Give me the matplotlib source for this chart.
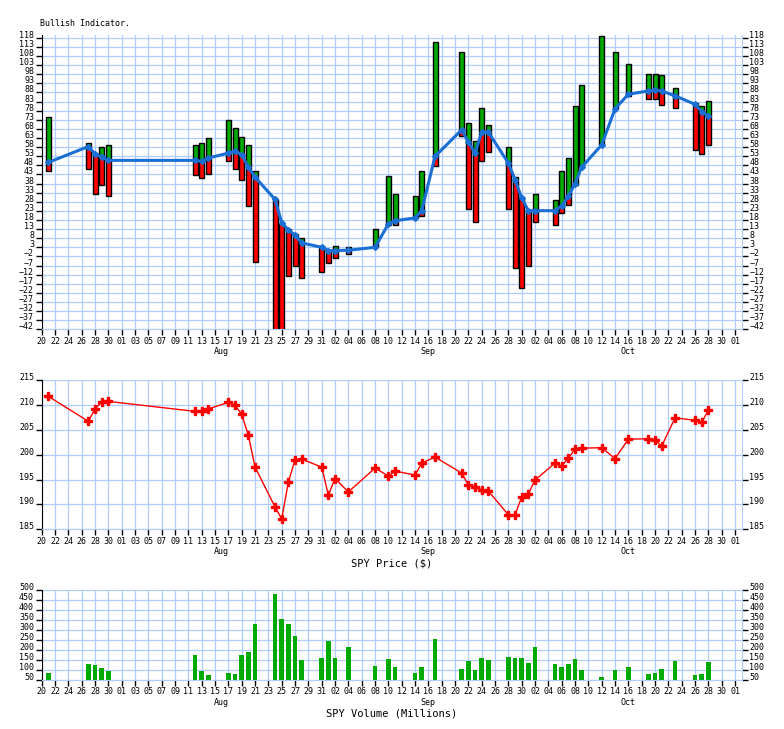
import matplotlib
matplotlib.use("Agg")
import matplotlib.pyplot as plt
import matplotlib.dates as mdates
import numpy as np
import pandas as pd

plt.rcParams["font.family"] = ["DejaVu Sans Mono"]

# ---------------- data ----------------
dates = ["2015-07-21", "2015-07-27", "2015-07-28", "2015-07-29", "2015-07-30",
         "2015-08-12", "2015-08-13", "2015-08-14", "2015-08-17", "2015-08-18",
         "2015-08-19", "2015-08-20", "2015-08-21", "2015-08-24", "2015-08-25",
         "2015-08-26", "2015-08-27", "2015-08-28", "2015-08-31", "2015-09-01",
         "2015-09-02", "2015-09-04", "2015-09-08", "2015-09-10", "2015-09-11",
         "2015-09-14", "2015-09-15", "2015-09-17", "2015-09-21", "2015-09-22",
         "2015-09-23", "2015-09-24", "2015-09-25", "2015-09-28", "2015-09-29",
         "2015-09-30", "2015-10-01", "2015-10-02", "2015-10-05", "2015-10-06",
         "2015-10-07", "2015-10-08", "2015-10-09", "2015-10-12", "2015-10-14",
         "2015-10-16", "2015-10-19", "2015-10-20", "2015-10-21", "2015-10-23",
         "2015-10-26", "2015-10-27", "2015-10-28"]

bull_value = [49.6, 58.3, 54.3, 52.5, 50.7,
              50.7, 50.1, 52.0, 54.7, 55.6,
              53.8, 47.0, 41.5, 29.3, 16.4,
              12.7, 9.6, 5.4, 3.0, 1.2,
              1.2, 1.4, 3.0, 15.8, 17.6,
              19.1, 23.1, 52.9, 67.5, 60.7,
              54.7, 66.2, 66.2, 49.2, 40.1,
              30.0, 23.1, 23.1, 23.1, 25.8,
              31.0, 37.9, 47.0, 59.2, 79.0,
              87.0, 88.8, 89.4, 88.8, 86.1,
              81.5, 77.5, 75.1]
bull_high = [74.4, 60.2, 54.3, 58.0, 59.2,
             59.2, 60.3, 63.1, 72.6, 68.4,
             63.3, 59.2, 45.0, 29.3, 16.4,
             13.3, 10.3, 8.1, 3.6, 1.5,
             3.8, 3.0, 13.3, 42.3, 32.4,
             31.3, 45.0, 115.8, 110.3, 71.3,
             61.5, 79.5, 70.2, 58.1, 41.4,
             30.4, 23.7, 32.4, 29.1, 44.6,
             52.1, 80.6, 91.9, 119.0, 110.2,
             103.6, 98.3, 98.3, 97.6, 90.4,
             82.2, 80.6, 83.5]
bull_low = [44.6, 46.1, 32.4, 37.3, 31.3,
            42.5, 41.0, 43.4, 50.5, 46.1,
            40.1, 25.5, -4.8, -45.0, -45.0,
            -13.0, -7.0, -13.6, -10.8, -5.7,
            -2.6, -0.8, 3.0, 15.5, 15.4,
            19.0, 20.4, 47.4, 64.2, 24.2,
            16.9, 50.5, 55.4, 24.2, -8.6,
            -19.6, -7.5, 16.9, 15.4, 21.8,
            26.4, 37.3, 47.0, 59.0, 79.0,
            86.0, 84.2, 84.2, 81.0, 79.5,
            56.5, 54.3, 59.2]

spy_price = [211.7, 206.7, 209.2, 210.6, 210.7,
             208.7, 208.7, 209.2, 210.5, 209.9,
             208.1, 203.9, 197.5, 189.5, 187.1,
             194.5, 199.0, 199.1, 197.5, 191.9,
             195.2, 192.5, 197.3, 195.7, 196.7,
             195.9, 198.3, 199.5, 196.3, 193.9,
             193.5, 192.9, 192.7, 187.9, 187.9,
             191.5, 192.1, 194.9, 198.3, 197.7,
             199.3, 201.1, 201.3, 201.4, 199.2,
             203.1, 203.2, 202.9, 201.7, 207.4,
             206.9, 206.5, 208.9]

spy_volume = [81, 126, 121, 106, 92,
              171, 92, 72, 82, 77,
              171, 186, 331, 480, 356,
              331, 271, 146, 156, 246,
              156, 211, 116, 151, 111,
              82, 111, 256, 102, 141,
              97, 156, 146, 161, 156,
              156, 131, 211, 126, 111,
              126, 151, 97, 62, 97,
              111, 77, 82, 102, 141,
              72, 77, 136]

bull_ticks = list(range(-42, 119, 5))
price_ticks = [185, 190, 195, 200, 205, 210, 215]
volume_ticks = [50, 100, 150, 200, 250, 300, 350, 400, 450, 500]

# ---------------- style ----------------
GRID = "#b0ccff"
GREEN = "#00aa00"
RED = "#ff0000"
BLUE = "#1a6fd4"

x = pd.to_datetime(dates)
bv = np.array(bull_value)
bh = np.array(bull_high)
bl = np.array(bull_low)

x_start = pd.Timestamp("2015-07-20")
x_end = pd.Timestamp("2015-11-02")
major_x = pd.date_range("2015-07-20", "2015-11-01", freq="2D")
month_x = pd.to_datetime(["2015-08-16", "2015-09-16", "2015-10-16"])

W, H = 784, 729
fig = plt.figure(figsize=(W / 100, H / 100), dpi=100)


def axes_px(l, t, r, b):
    return fig.add_axes([l / W, 1 - b / H, (r - l) / W, (b - t) / H])


def style(ax, yticks, ylim):
    ax.set_xlim(x_start, x_end)
    ax.set_ylim(*ylim)
    ax.set_yticks(yticks)
    ax.xaxis.remove_overlapping_locs = False
    ax.set_xticks(major_x)
    ax.xaxis.set_major_formatter(mdates.DateFormatter("%d"))
    ax.set_xticks(month_x, minor=True)
    ax.xaxis.set_minor_formatter(mdates.DateFormatter("%b"))
    ax.set_yticks([], minor=True)
    ax.grid(which="major", color=GRID, linewidth=0.9)
    ax.set_axisbelow(True)
    ax.spines["top"].set_visible(False)
    ax.spines["right"].set_color(GRID)
    ax.spines["bottom"].set_color(GRID)
    ax.spines["left"].set_color("black")
    ax.tick_params(axis="y", which="major", left=True, right=True,
                   labelleft=True, labelright=True, direction="out",
                   length=4, width=1, pad=1.5, labelsize=6, colors="black")
    ax.tick_params(axis="x", which="major", direction="out", length=4,
                   width=1, pad=1.5, labelsize=6)
    ax.tick_params(axis="x", which="minor", length=0, pad=13, labelsize=6)
    for t in ax.yaxis.get_major_ticks():
        t.label1.set_verticalalignment("baseline")
        t.label2.set_verticalalignment("baseline")


ax1 = axes_px(41.7, 35, 741.7, 329.3)
ax2 = axes_px(41.7, 380, 741.7, 529.3)
ax3 = axes_px(41.7, 590, 741.7, 679.5)

# ---- top: bullish indicator ----
bw = 0.75
ax1.bar(x, bh - bv, bottom=bv, width=bw, color=GREEN, linewidth=0, zorder=2)
ax1.bar(x, bv - bl, bottom=bl, width=bw, color=RED, linewidth=0, zorder=2)
ax1.bar(x, bh - bl, bottom=bl, width=bw, fill=False, edgecolor="black",
        linewidth=1, zorder=3)
ax1.plot(x, bv, color=BLUE, linewidth=2.2, marker="D", markersize=3,
         zorder=4)
style(ax1, bull_ticks, (-42, 119.5))
fig.text(40 / W, 1 - 23 / H, "Bullish Indicator.", fontsize=6,
         ha="left", va="center")

# ---- middle: price ----
ax2.plot(x, spy_price, color=RED, linewidth=1, marker="P", markersize=5.5,
         zorder=3)
style(ax2, price_ticks, (185, 215))
fig.text(391.7 / W, 1 - 564 / H, "SPY Price ($)", fontsize=7.5,
         ha="center", va="center")

# ---- bottom: volume ----
ax3.bar(x, spy_volume, width=0.7, color=GREEN, linewidth=0, zorder=2)
style(ax3, volume_ticks, (50, 500))
fig.text(391.7 / W, 1 - 714 / H, "SPY Volume (Millions)", fontsize=7.5,
         ha="center", va="center")

fig.savefig("out.png", dpi=100)
